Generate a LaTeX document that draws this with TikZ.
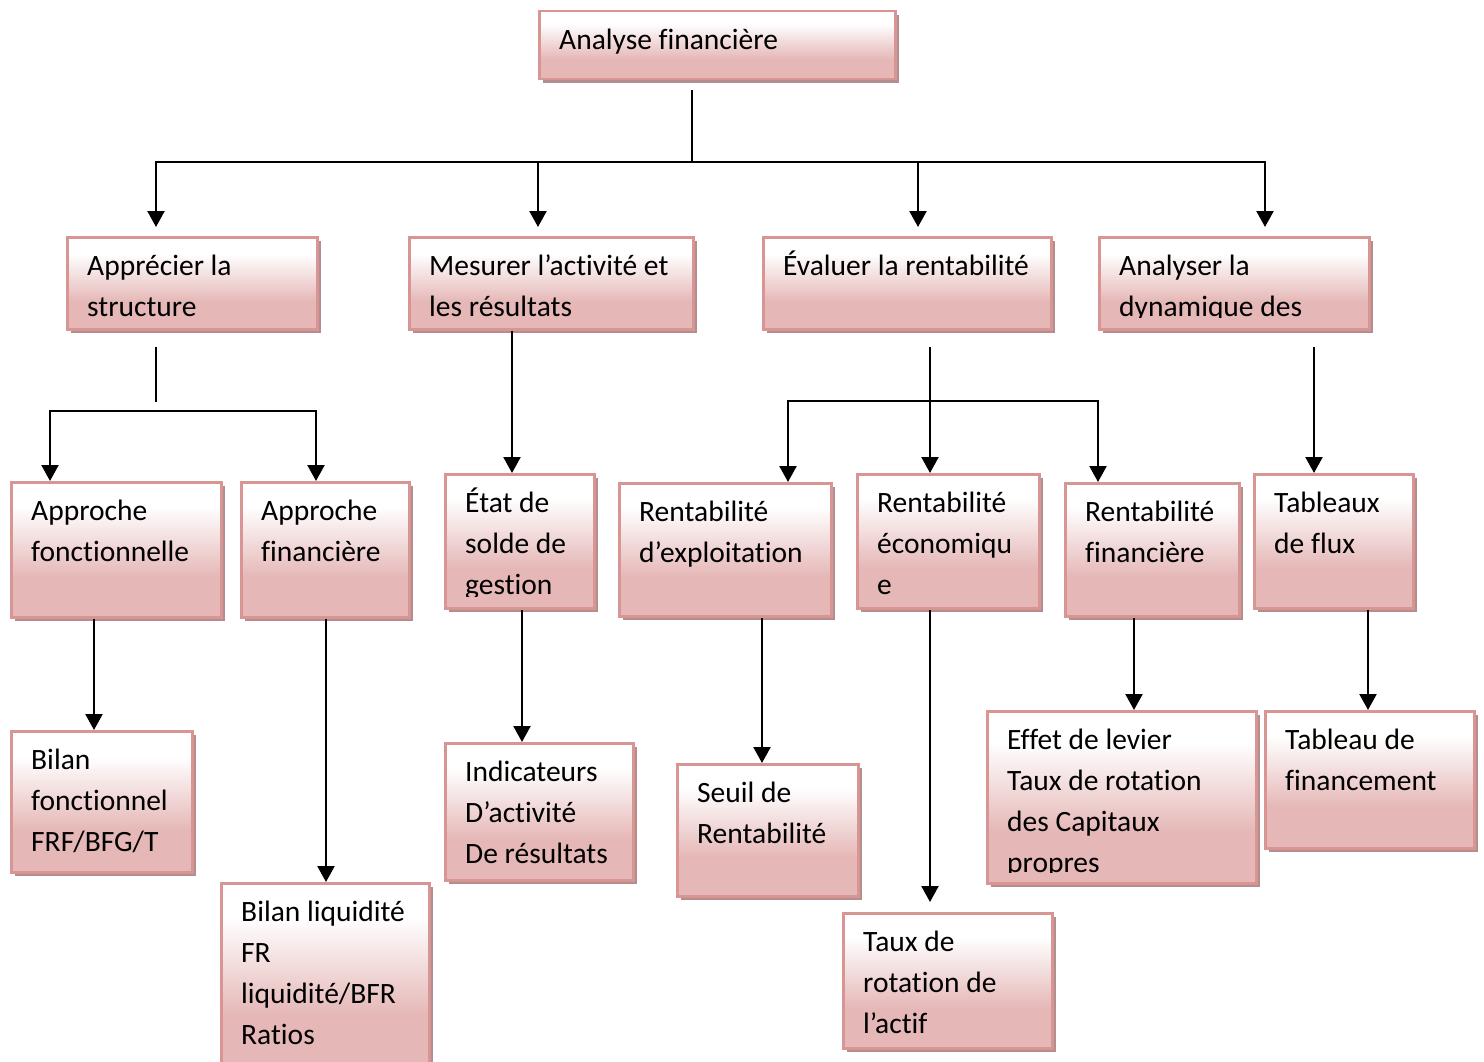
\documentclass[tikz,border=0pt]{standalone}
\usepackage{fontspec}
\setmainfont{Carlito}[Ligatures=CommonOff]
\usepackage{tikz}
\usetikzlibrary{positioning,arrows.meta,shadows,calc}
\definecolor{boxpink}{RGB}{229,184,183}
\definecolor{boxline}{RGB}{217,149,148}
\definecolor{boxshade}{RGB}{178,142,142}
\pgfdeclareverticalshading{boxgrad}{100bp}{color(0bp)=(boxpink); color(40bp)=(boxpink); color(66bp)=(white); color(100bp)=(white)}

\begin{document}
\begin{tikzpicture}[x=1pt,y=-1pt,
  boite/.style={rectangle,anchor=north west,draw=boxline,line width=2.5pt,shade,shading=boxgrad,drop shadow={shadow xshift=4pt,shadow yshift=-4pt,fill=boxshade,opacity=1},inner sep=0pt},
  texte/.style={anchor=north west,align=left,inner sep=0pt,font=\fontsize{29.5}{41}\selectfont},
  lien/.style={line width=2.2pt},
  fleche/.style={line width=2.3pt,-{Triangle[length=16pt,width=17pt]}}]
                \useasboundingbox (0,0) rectangle (1484,1062);

                \node[boite,minimum width=356pt,minimum height=68pt] (analyse) at (538,10) {};
                \node[texte] (analyse-t) at ([shift={(21,11)}]analyse.north west) {\strut Analyse financière};

                \node[boite,minimum width=250pt,minimum height=92pt] (structure) at (66,236) {};
                \node[boite,minimum width=284pt,minimum height=92pt] (activite) at (408,236) {};
                \node[boite,minimum width=288pt,minimum height=92pt] (rentab) at (762,236) {};
                \node[boite,minimum width=270pt,minimum height=92pt] (dynamique) at (1098,236) {};
                \node[texte] (structure-t) at ([shift={(21,11)}]structure.north west) {\strut Apprécier la\\structure};
                \node[texte] (activite-t) at ([shift={(21,11)}]activite.north west) {\strut Mesurer l’activité et\\les résultats};
                \node[texte] (rentab-t) at ([shift={(21,11)}]rentab.north west) {\strut Évaluer la rentabilité};
                \begin{scope}
                \clip (dynamique.north west) rectangle ([yshift=13pt]dynamique.south east);
                \node[texte] (dynamique-t) at ([shift={(21,11)}]dynamique.north west) {\strut Analyser la\\dynamique des};
                \end{scope}

                \node[boite,minimum width=210pt,minimum height=135pt] (fonct) at (10,481) {};
                \node[boite,minimum width=168pt,minimum height=135pt] (financ) at (240,481) {};
                \node[boite,minimum width=149pt,minimum height=134pt] (sig) at (444,473) {};
                \node[boite,minimum width=212pt,minimum height=133pt] (rexpl) at (618,482) {};
                \node[boite,minimum width=182pt,minimum height=134pt] (reco) at (856,473) {};
                \node[boite,minimum width=174pt,minimum height=133pt] (rfin) at (1064,482) {};
                \node[boite,minimum width=159pt,minimum height=134pt] (flux) at (1253,473) {};
                \node[texte] (fonct-t) at ([shift={(21,11)}]fonct.north west) {\strut Approche\\fonctionnelle};
                \node[texte] (financ-t) at ([shift={(21,11)}]financ.north west) {\strut Approche\\financière};
                \begin{scope}
                \clip (sig.north west) rectangle ([yshift=13pt]sig.south east);
                \node[texte] (sig-t) at ([shift={(21,11)}]sig.north west) {\strut État de\\solde de\\gestion};
                \end{scope}
                \node[texte] (rexpl-t) at ([shift={(21,11)}]rexpl.north west) {\strut Rentabilité\\d’exploitation};
                \node[texte] (reco-t) at ([shift={(21,11)}]reco.north west) {\strut Rentabilité\\économiqu\\e};
                \node[texte] (rfin-t) at ([shift={(21,11)}]rfin.north west) {\strut Rentabilité\\financière};
                \node[texte] (flux-t) at ([shift={(21,11)}]flux.north west) {\strut Tableaux\\de flux};

                \node[boite,minimum width=181pt,minimum height=141pt] (bilanf) at (10,730) {};
                \node[boite,minimum width=208pt,minimum height=188pt] (bilanl) at (220,882) {};
                \node[boite,minimum width=188pt,minimum height=137pt] (indic) at (444,742) {};
                \node[boite,minimum width=181pt,minimum height=132pt] (seuil) at (676,763) {};
                \node[boite,minimum width=209pt,minimum height=135pt] (rotation) at (842,912) {};
                \node[boite,minimum width=269pt,minimum height=172pt] (levier) at (986,710) {};
                \node[boite,minimum width=209pt,minimum height=137pt] (tabfin) at (1264,710) {};
                \node[texte] (bilanf-t) at ([shift={(21,11)}]bilanf.north west) {\strut Bilan\\fonctionnel\\FRF/BFG/T};
                \node[texte] (bilanl-t) at ([shift={(21,11)}]bilanl.north west) {\strut Bilan liquidité\\FR\\liquidité/BFR\\Ratios};
                \node[texte] (indic-t) at ([shift={(21,11)}]indic.north west) {\strut Indicateurs\\D’activité\\De résultats};
                \node[texte] (seuil-t) at ([shift={(21,11)}]seuil.north west) {\strut Seuil de\\Rentabilité};
                \node[texte] (rotation-t) at ([shift={(21,11)}]rotation.north west) {\strut Taux de\\rotation de\\l’actif};
                \begin{scope}
                \clip (levier.north west) rectangle ([yshift=12pt]levier.south east);
                \node[texte] (levier-t) at ([shift={(21,11)}]levier.north west) {\strut Effet de levier\\Taux de rotation\\des Capitaux\\propres};
                \end{scope}
                \node[texte] (tabfin-t) at ([shift={(21,11)}]tabfin.north west) {\strut Tableau de\\financement};

                \coordinate (j0) at (692,162);
                \coordinate (j1) at (156,411);
                \coordinate (j2) at (930,401);
                \draw[lien,shorten <=10pt] (j0 |- analyse.south) -- (j0);
                \draw[fleche] (j0) -| ([shift={(90,-9)}]structure.north west);
                \draw[fleche] (j0) -| ([shift={(130,-9)}]activite.north west);
                \draw[fleche] (j0) -| ([shift={(156,-9)}]rentab.north west);
                \draw[fleche] (j0) -| ([shift={(167,-9)}]dynamique.north west);
                \draw[lien,shorten <=16pt,shorten >=9pt] (j1 |- structure.south) -- (j1);
                \draw[fleche] (j1) -| ([xshift=40pt]fonct.north west);
                \draw[fleche] (j1) -| ([xshift=76pt]financ.north west);
                \draw[fleche] ([xshift=104pt]activite.south west) -- ([xshift=68pt]sig.north west);
                \draw[fleche,shorten <=16pt] (j2 |- rentab.south) -- ([xshift=74pt]reco.north west);
                \draw[fleche] (j2) -| ([xshift=170pt]rexpl.north west);
                \draw[fleche] (j2) -| ([xshift=34pt]rfin.north west);
                \draw[fleche,shorten <=16pt] ([xshift=216pt]dynamique.south west) -- ([xshift=61pt]flux.north west);
                \draw[fleche] ([xshift=84pt]fonct.south west) -- ([xshift=84pt]bilanf.north west);
                \draw[fleche] ([xshift=86pt]financ.south west) -- ([xshift=106pt]bilanl.north west);
                \draw[fleche] ([xshift=78pt]sig.south west) -- ([xshift=78pt]indic.north west);
                \draw[fleche] ([xshift=144pt]rexpl.south west) -- ([xshift=86pt]seuil.north west);
                \draw[fleche,shorten >=10pt] ([xshift=74pt]reco.south west) -- ([xshift=88pt]rotation.north west);
                \draw[fleche] ([xshift=70pt]rfin.south west) -- ([xshift=148pt]levier.north west);
                \draw[fleche] ([xshift=115pt]flux.south west) -- ([xshift=104pt]tabfin.north west);
            \end{tikzpicture}
\end{document}
